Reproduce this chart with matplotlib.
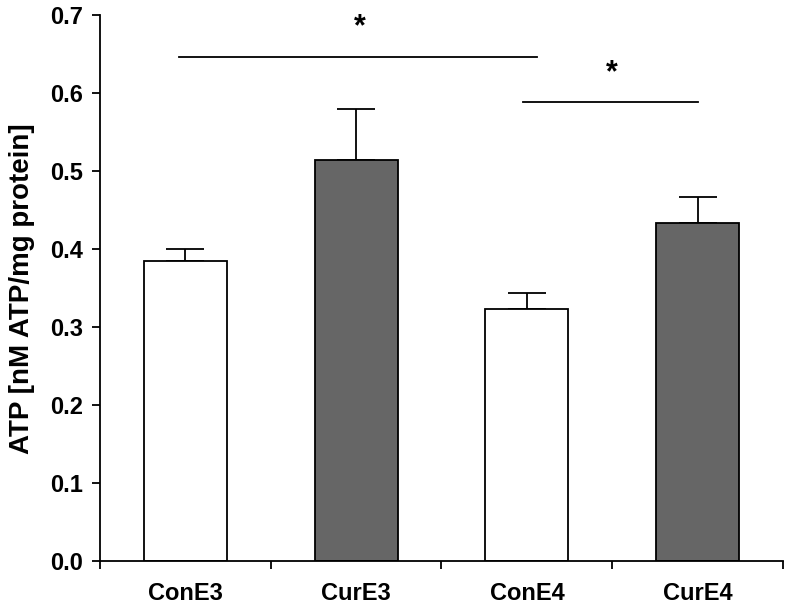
import numpy as np
import matplotlib.pyplot as plt

plt.rcParams["font.family"] = ["Liberation Sans", "DejaVu Sans"]
plt.rcParams["font.weight"] = "bold"

# 数据
groups = ["ConE3", "CurE3", "ConE4", "CurE4"]
atp_mean = [0.385, 0.515, 0.324, 0.434]
atp_err = [0.016, 0.065, 0.020, 0.033]
bar_colors = ["white", "#666666", "white", "#666666"]

# 显著性标记: (起点, 终点, 高度, 星号x)
sig_x1 = [-0.04, 1.98]
sig_x2 = [2.06, 3.0]
sig_y = [0.647, 0.589]
sig_star_x = [1.02, 2.5]

fig = plt.figure(figsize=(7.86, 6.07), dpi=100)
ax = fig.add_axes([0.1272, 0.075, 0.8690, 0.9])

x = np.arange(len(groups))
ax.bar(x, atp_mean, width=0.485, color=bar_colors, edgecolor="black",
       linewidth=1.3, zorder=2)
ax.errorbar(x, atp_mean, yerr=[np.zeros(len(x)), atp_err], fmt="none",
            ecolor="black", elinewidth=1.3, capsize=13.5, capthick=1.3, zorder=1)

for a, b, h, s in zip(sig_x1, sig_x2, sig_y, sig_star_x):
    ax.plot([a, b], [h, h], color="black", linewidth=1.3, clip_on=False)
    ax.text(s, h + 0.018, "*", ha="center", va="bottom", fontsize=22,
            fontweight="bold")

ax.set_xlim(-0.5, 3.5)
ax.set_ylim(0, 0.7)
ax.set_yticks(np.arange(0, 0.71, 0.1))
ax.set_yticklabels([f"{v:.1f}" for v in np.arange(0, 0.71, 0.1)])
ax.set_xticks(x)
ax.set_xticklabels(groups)
ax.set_xticks(np.arange(-0.5, 3.6, 1.0), minor=True)
ax.tick_params(axis="x", which="major", length=0, pad=15, labelsize=17)
ax.tick_params(axis="x", which="minor", length=5.8, width=1.3, direction="out")
ax.tick_params(axis="y", length=5.8, width=1.3, direction="out", labelsize=17,
               pad=6.5)

for side in ["top", "right"]:
    ax.spines[side].set_visible(False)
for side in ["left", "bottom"]:
    ax.spines[side].set_linewidth(1.3)

ax.set_ylabel("ATP [nM ATP/mg protein]", fontsize=20, fontweight="bold",
              labelpad=11)

fig.savefig("out.png", dpi=100)
